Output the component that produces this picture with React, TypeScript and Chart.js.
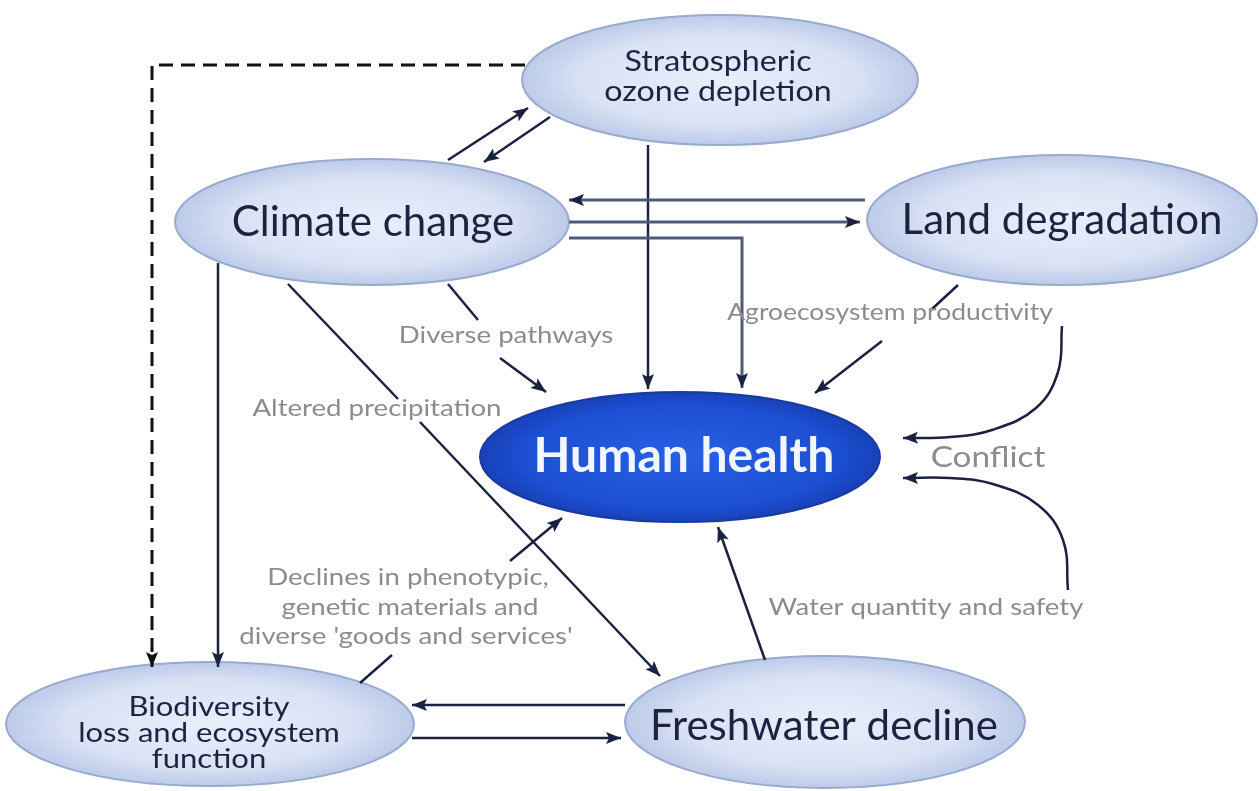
import React, { useEffect, useRef } from "react";
import { Chart, registerables } from "chart.js";

Chart.register(...registerables);

// ---- Nodes (data coordinates: x 0..1259, y 0..791 top-down) ----
const nodeLabels = [
  ["Stratospheric", "ozone depletion"],
  ["Climate change"],
  ["Land degradation"],
  ["Human health"],
  ["Biodiversity", "loss and ecosystem", "function"],
  ["Freshwater decline"],
];
const nodeX = [720, 372, 1062, 680, 210, 825];
const nodeY = [80, 222, 220, 457, 724, 722];
const nodeRx = [198, 197, 195, 200, 204, 200];
const nodeRy = [65, 63, 65, 65, 62, 66];
const nodeTextX = [718, 373, 1062, 684, 209, 824];
const nodeTextY = [77, 222, 220, 457, 733, 726];
const nodeFont = [28, 42, 42, 48, 27, 42];
const nodeLineH = [30, 0, 0, 0, 26, 0];
const nodeStretch = [1.15, 1, 1, 1, 1.15, 1];
const nodeBold = [false, false, false, true, false, false];
const nodeDark = [false, false, false, true, false, false];

// ---- Edges (polylines) ----
const edgePoints: number[][][] = [
  [[448, 160], [528, 108]],
  [[550, 117], [484, 162]],
  [[865, 200], [569, 200]],
  [[569, 222], [860, 222]],
  [[569, 238], [742, 238], [742, 388]],
  [[648, 145], [648, 389]],
  [[448, 284], [478, 320]],
  [[500, 358], [546, 392]],
  [[958, 285], [932, 309]],
  [[882, 341], [815, 393]],
  [[1062, 326], [1058, 372], [1036, 408], [992, 430], [950, 437], [903, 438]],
  [[1068, 590], [1063, 540], [1038, 505], [993, 484], [950, 478], [903, 478]],
  [[765, 660], [718, 527]],
  [[288, 284], [398, 399]],
  [[420, 422], [660, 676]],
  [[218, 263], [218, 667]],
  [[525, 65], [152, 65], [152, 667]],
  [[360, 683], [392, 655]],
  [[510, 561], [562, 518]],
  [[625, 705], [412, 705]],
  [[412, 738], [621, 738]],
];
const edgeArrow = [true, true, true, true, true, true, false, true, false, true, true, true, true, false, true, true, true, false, true, true, true];
const edgeDashed = [false, false, false, false, false, false, false, false, false, false, false, false, false, false, false, false, true, false, false, false, false];
const edgeCurved = [false, false, false, false, false, false, false, false, false, false, true, true, false, false, false, false, false, false, false, false, false];
const edgeLight = [false, false, true, true, true, false, false, false, false, false, false, false, false, false, false, false, false, false, false, false, false];

// ---- Annotation texts ----
const noteTexts = [
  "Diverse pathways",
  "Agroecosystem productivity",
  "Altered precipitation",
  "Conflict",
  "Water quantity and safety",
  "Declines in phenotypic,",
  "genetic materials and",
  "diverse 'goods and services'",
];
const noteX = [506, 890, 377, 988, 926, 408, 410, 406];
const noteY = [335, 313, 408, 458, 607, 577, 607, 636];
const noteSize = [24, 23, 24, 29, 24, 24, 24, 24];

const FONT = "Lato, 'Open Sans', 'DejaVu Sans', sans-serif";
const NOTE_STRETCH = 1.15;

const diagramPlugin = {
  id: "diagram",
  beforeDatasetsDraw(chart: any) {
    const { ctx, scales } = chart;
    const xs = scales.x;
    const ys = scales.y;
    for (let i = 0; i < nodeX.length; i++) {
      const cx = xs.getPixelForValue(nodeX[i]);
      const cy = ys.getPixelForValue(nodeY[i]);
      const rx = Math.abs(xs.getPixelForValue(nodeX[i] + nodeRx[i]) - cx);
      const ry = Math.abs(ys.getPixelForValue(nodeY[i] + nodeRy[i]) - cy);
      ctx.save();
      ctx.beginPath();
      ctx.ellipse(cx, cy, rx, ry, 0, 0, Math.PI * 2);
      ctx.save();
      ctx.translate(cx, cy);
      ctx.scale(1, ry / rx);
      const g = ctx.createRadialGradient(0, 0, 0, 0, 0, rx);
      if (nodeDark[i]) {
        g.addColorStop(0, "#2860e4");
        g.addColorStop(0.8, "#1d4fd2");
        g.addColorStop(1, "#1741b8");
      } else {
        g.addColorStop(0, "#e9eefa");
        g.addColorStop(0.7, "#d9e1f4");
        g.addColorStop(1, "#bccbe9");
      }
      ctx.fillStyle = g;
      ctx.fill();
      ctx.restore();
      ctx.lineWidth = 2;
      ctx.strokeStyle = nodeDark[i] ? "#1a3aa0" : "#98aacd";
      ctx.stroke();
      ctx.restore();
    }
  },
  afterDatasetsDraw(chart: any) {
    const { ctx, scales } = chart;
    const xs = scales.x;
    const ys = scales.y;
    // arrowheads
    for (let i = 0; i < edgePoints.length; i++) {
      if (!edgeArrow[i]) continue;
      const pts = edgePoints[i];
      const a = pts[pts.length - 2];
      const b = pts[pts.length - 1];
      const ax = xs.getPixelForValue(a[0]);
      const ay = ys.getPixelForValue(a[1]);
      const bx = xs.getPixelForValue(b[0]);
      const by = ys.getPixelForValue(b[1]);
      const ang = Math.atan2(by - ay, bx - ax);
      const L = 15;
      const W = 6;
      ctx.save();
      ctx.translate(bx, by);
      ctx.rotate(ang);
      ctx.beginPath();
      ctx.moveTo(0, 0);
      ctx.lineTo(-L, -W);
      ctx.lineTo(-L + 3, 0);
      ctx.lineTo(-L, W);
      ctx.closePath();
      ctx.fillStyle = edgeDashed[i] ? "#111111" : "#1b2140";
      ctx.fill();
      ctx.restore();
    }
    // node labels
    for (let i = 0; i < nodeLabels.length; i++) {
      const lines = nodeLabels[i];
      const size = nodeFont[i];
      const lh = nodeLineH[i];
      const tx = xs.getPixelForValue(nodeTextX[i]);
      const ty = ys.getPixelForValue(nodeTextY[i]);
      ctx.save();
      ctx.translate(tx, 0);
      ctx.scale(nodeStretch[i], 1);
      ctx.font = `${nodeBold[i] ? "bold " : ""}${size}px ${FONT}`;
      ctx.fillStyle = nodeDark[i] ? "#f2f6ff" : "#1c2340";
      ctx.textAlign = "center";
      ctx.textBaseline = "middle";
      const start = ty - ((lines.length - 1) * lh) / 2;
      lines.forEach((t, k) => ctx.fillText(t, 0, start + k * lh));
      ctx.restore();
    }
    // annotations
    for (let i = 0; i < noteTexts.length; i++) {
      ctx.save();
      ctx.translate(xs.getPixelForValue(noteX[i]), ys.getPixelForValue(noteY[i]));
      ctx.scale(NOTE_STRETCH, 1);
      ctx.font = `${noteSize[i]}px ${FONT}`;
      ctx.fillStyle = "#8c8c8c";
      ctx.textAlign = "center";
      ctx.textBaseline = "middle";
      ctx.fillText(noteTexts[i], 0, 0);
      ctx.restore();
    }
  },
};

export default function App() {
  const ref = useRef<HTMLCanvasElement | null>(null);
  useEffect(() => {
    if (!ref.current) return;
    const datasets = edgePoints.map((pts, i) => ({
      data: pts.map((p) => ({ x: p[0], y: p[1] })),
      showLine: true,
      borderColor: edgeDashed[i] ? "#111111" : edgeLight[i] ? "#4f5a78" : "#1b2140",
      borderWidth: edgeDashed[i] ? 3 : edgeLight[i] ? 3 : 2.5,
      borderDash: edgeDashed[i] ? [14, 8] : [],
      tension: edgeCurved[i] ? 0.4 : 0,
      pointRadius: 0,
      fill: false,
    }));
    const chart = new Chart(ref.current, {
      type: "scatter",
      data: { datasets },
      options: {
        animation: false,
        responsive: false,
        maintainAspectRatio: false,
        layout: { padding: 0 },
        plugins: { legend: { display: false }, tooltip: { enabled: false }, title: { display: false } },
        scales: {
          x: { type: "linear", min: 0, max: 1259, display: false },
          y: { type: "linear", min: 0, max: 791, reverse: true, display: false },
        },
      },
      plugins: [diagramPlugin],
    });
    return () => chart.destroy();
  }, []);
  return (
    <div style={{ position: "fixed", left: 0, top: 0, width: 1259, height: 791, background: "#ffffff" }}>
      <canvas ref={ref} width={1259} height={791} style={{ display: "block" }} />
    </div>
  );
}
